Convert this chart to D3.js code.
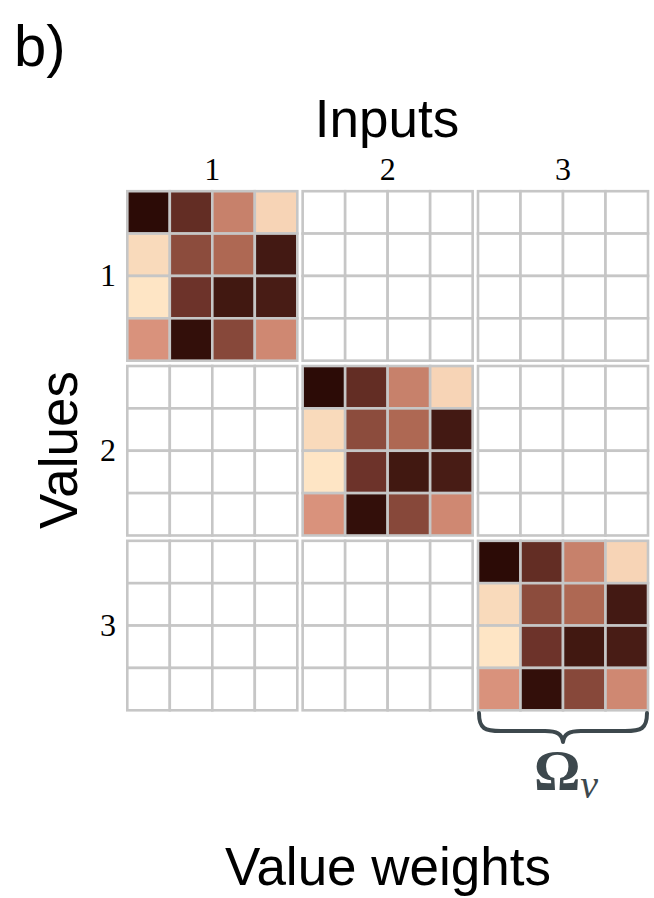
<!DOCTYPE html>
<html>
<head>
<meta charset="utf-8">
<script src="https://cdn.jsdelivr.net/npm/d3@7"></script>
<style>
  html, body { margin: 0; padding: 0; background: #ffffff; }
  svg { display: block; }
</style>
</head>
<body>
<svg id="chart" width="654" height="898"></svg>
<script>
// Block indices along each axis
const inputs = [1, 2, 3];
const valueRows = [1, 2, 3];
// Shared 4x4 value-weight block (intensity 0 = light, 1 = dark), row by row
const weightBlock = [
  [1.00, 0.76, 0.37, 0.06],
  [0.04, 0.60, 0.47, 0.90],
  [0.00, 0.72, 0.91, 0.88],
  [0.30, 0.97, 0.62, 0.34]
];
const cellIdx = [0, 1, 2, 3];
// Colour ramp stops for the weights
const rampStops = [0, 0.30, 0.48, 0.73, 1];
const rampColors = ["#fee5c5", "#d9927c", "#ab6551", "#6a3128", "#2c0b06"];

const svg = d3.select("#chart");
const sans = "'Liberation Sans', Arial, sans-serif";
const serif = "'Liberation Serif', 'DejaVu Serif', serif";

const color = d3.scaleLinear().domain(rampStops).range(rampColors).interpolate(d3.interpolateRgb);

const xBlock = d3.scaleBand().domain(inputs).range([127.3, 648]).paddingInner(0.0305);
const yBlock = d3.scaleBand().domain(valueRows).range([191.2, 710.3]).paddingInner(0.0305);
const xCell = d3.scaleBand().domain(cellIdx).range([0, xBlock.bandwidth()]);
const yCell = d3.scaleBand().domain(cellIdx).range([0, yBlock.bandwidth()]);

// Block-diagonal layout: block (r, c) carries weights only when r === c
const blocks = [];
valueRows.forEach(r => inputs.forEach(c => blocks.push({ r, c, diag: r === c })));

const gBlocks = svg.append("g")
  .selectAll("g.block")
  .data(blocks)
  .join("g")
  .attr("class", "block")
  .attr("transform", d => `translate(${xBlock(d.c)},${yBlock(d.r)})`);

gBlocks.each(function (b) {
  const cells = [];
  cellIdx.forEach(i => cellIdx.forEach(j => cells.push({ i, j, v: b.diag ? weightBlock[i][j] : null })));
  d3.select(this).selectAll("rect")
    .data(cells)
    .join("rect")
    .attr("x", d => xCell(d.j))
    .attr("y", d => yCell(d.i))
    .attr("width", xCell.bandwidth())
    .attr("height", yCell.bandwidth())
    .attr("fill", d => d.v === null ? "#ffffff" : color(d.v))
    .attr("stroke", "#c6c6c6")
    .attr("stroke-width", 2.6);
});

// Column (input) labels
svg.append("g").selectAll("text")
  .data(inputs)
  .join("text")
  .attr("x", d => xBlock(d) + xBlock.bandwidth() / 2)
  .attr("y", 180)
  .attr("text-anchor", "middle")
  .attr("font-family", serif)
  .attr("font-size", 32)
  .attr("fill", "#000")
  .text(d => d);

// Row (value) labels
svg.append("g").selectAll("text")
  .data(valueRows)
  .join("text")
  .attr("x", 108)
  .attr("y", d => yBlock(d) + yBlock.bandwidth() / 2 + 10)
  .attr("text-anchor", "middle")
  .attr("font-family", serif)
  .attr("font-size", 32)
  .attr("fill", "#000")
  .text(d => d);

// Panel tag and axis titles
svg.append("text").attr("x", 14).attr("y", 66)
  .attr("font-family", sans).attr("font-size", 58).attr("fill", "#000").text("b)");

svg.append("text").attr("x", 387).attr("y", 137)
  .attr("text-anchor", "middle")
  .attr("font-family", sans).attr("font-size", 53).attr("fill", "#000").text("Inputs");

svg.append("text")
  .attr("transform", "translate(77,450) rotate(-90)")
  .attr("text-anchor", "middle")
  .attr("font-family", sans).attr("font-size", 53).attr("fill", "#000").text("Values");

svg.append("text").attr("x", 388).attr("y", 885)
  .attr("text-anchor", "middle")
  .attr("font-family", sans).attr("font-size", 53).attr("fill", "#000").text("Value weights");

// Brace under the last diagonal block
const bx0 = xBlock(3) + 1, bx1 = xBlock(3) + xBlock.bandwidth() - 1;
const bm = (bx0 + bx1) / 2;
const yTop = 713, yMid = 731, yTip = 742;
const brace = d3.path();
brace.moveTo(bx0, yTop);
brace.bezierCurveTo(bx0, yMid - 2, bx0 + 6, yMid, bx0 + 22, yMid);
brace.lineTo(bm - 18, yMid);
brace.bezierCurveTo(bm - 6, yMid, bm - 1, yMid + 3, bm, yTip);
brace.bezierCurveTo(bm + 1, yMid + 3, bm + 6, yMid, bm + 18, yMid);
brace.lineTo(bx1 - 22, yMid);
brace.bezierCurveTo(bx1 - 6, yMid, bx1, yMid - 2, bx1, yTop);
svg.append("path")
  .attr("d", brace.toString())
  .attr("fill", "none")
  .attr("stroke", "#3d484d")
  .attr("stroke-width", 4)
  .attr("stroke-linecap", "round")
  .attr("stroke-linejoin", "round");

// Omega_v symbol
const omega = svg.append("text")
  .attr("x", 566).attr("y", 790)
  .attr("text-anchor", "middle")
  .attr("font-family", serif)
  .attr("fill", "#3d484d");
omega.append("tspan").attr("font-size", 58).attr("font-weight", "bold").text("Ω");
omega.append("tspan").attr("font-size", 40).attr("font-style", "italic").attr("dy", 8).text("v");
</script>
</body>
</html>
